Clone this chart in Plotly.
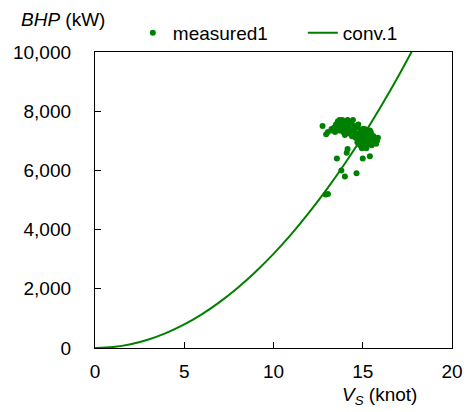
import plotly.graph_objects as go

# measured1 : ship speed (knot) and brake horse power (kW)
meas_vs = [
    12.75, 12.95, 13.05, 13.25, 13.3, 13.4, 13.45, 13.5, 13.55, 13.6, 13.65, 13.7, 13.7, 13.75,
    13.8, 13.85, 13.9, 13.9, 13.95, 14.0, 14.0, 14.05, 14.1, 14.15, 14.2, 14.25, 14.3, 14.35,
    14.4, 14.45, 14.5, 14.55, 14.6, 14.7, 14.75,
    14.6, 14.7, 14.75, 14.8, 14.85, 14.9, 14.9, 14.95, 15.0, 15.0, 15.05, 15.1, 15.1, 15.15,
    15.2, 15.2, 15.25, 15.3, 15.3, 15.35, 15.4, 15.4, 15.45, 15.5, 15.5, 15.55, 15.6, 15.65,
    15.7, 15.75, 15.8, 15.85, 15.2, 14.95, 15.45, 15.0,
    14.15, 14.1, 13.55, 15.0, 15.4, 13.8, 14.0, 14.65, 12.92, 13.05,
]
meas_bhp = [
    7500, 7220, 7300, 7400, 7350, 7450, 7300, 7550, 7400, 7650, 7500, 7350, 7700, 7600,
    7450, 7700, 7550, 7300, 7650, 7450, 7200, 7600, 7350, 7700, 7500, 7250, 7400, 7600,
    7150, 7700, 7350, 7500, 7250, 7450, 7550,
    7100, 6950, 7250, 7050, 6850, 7350, 7150, 6950, 7250, 7050, 6800, 7400, 7150, 6950,
    7300, 7050, 6850, 7200, 6950, 7100, 7350, 6900, 7050, 7200, 6850, 7000, 7150, 6950,
    7050, 6900, 7000, 7100, 6750, 6750, 7300, 7400,
    6720, 6600, 6400, 6400, 6480, 6000, 5790, 5900, 5190, 5200,
]

# conv.1 : converted power curve
conv_vs = [0, 1, 2, 3, 4, 5, 6, 7, 8, 9, 10, 11, 12, 13, 14, 15, 16, 17, 18]
conv_bhp = [0, 32, 127, 286, 509, 795, 1145, 1558, 2035, 2576, 3180, 3848, 4579,
            5374, 6233, 7155, 8141, 9190, 10303]

x_ticks = [0, 5, 10, 15, 20]
y_ticks = [0, 2000, 4000, 6000, 8000, 10000]

GREEN = "#008000"
FONT = "Liberation Sans, Arial, sans-serif"

fig = go.Figure()
fig.add_trace(go.Scatter(
    x=meas_vs, y=meas_bhp, mode="markers", name="measured1",
    marker=dict(color=GREEN, size=6, line=dict(width=0)),
))
fig.add_trace(go.Scatter(
    x=conv_vs, y=conv_bhp, mode="lines", name="conv.1",
    line=dict(color=GREEN, width=2, shape="spline"),
))

axis_common = dict(
    showgrid=False, zeroline=False, showline=True, linecolor="black", linewidth=1.3,
    mirror=True, ticks="inside", ticklen=6, tickwidth=1.3, tickcolor="black",
    tickfont=dict(family=FONT, size=19, color="black"), automargin=False,
)
fig.update_xaxes(range=[0, 20], tickvals=x_ticks, ticklabelstandoff=6, **axis_common)
fig.update_yaxes(range=[0, 10000], tickvals=y_ticks, tickformat=",d",
                 ticklabelstandoff=19, **axis_common)

fig.update_layout(
    width=466, height=412,
    margin=dict(l=95, r=14, t=52, b=64, autoexpand=False),
    paper_bgcolor="white", plot_bgcolor="white",
    font=dict(family=FONT, size=19, color="black"),
    showlegend=True,
    legend=dict(orientation="h", x=0.106, y=1.0, xanchor="left", yanchor="bottom",
                font=dict(family=FONT, size=19, color="black"),
                bgcolor="rgba(0,0,0,0)", itemwidth=30,
                entrywidth=125, entrywidthmode="pixels"),
    annotations=[
        dict(text="<i>BHP</i> (kW)", xref="paper", yref="paper", x=-0.213, y=1.0,
             xanchor="left", yanchor="bottom", yshift=20, showarrow=False,
             font=dict(family=FONT, size=19, color="black")),
        dict(text="<i>V</i><sub><i>S</i></sub> (knot)", xref="paper", yref="paper", x=0.907, y=0,
             xanchor="right", yanchor="top", yshift=-34, showarrow=False,
             font=dict(family=FONT, size=19, color="black")),
    ],
)

fig.write_html(
    "out.html",
    config={"displayModeBar": False},
    post_script="document.body.style.margin='0';document.body.style.overflow='hidden';",
)
